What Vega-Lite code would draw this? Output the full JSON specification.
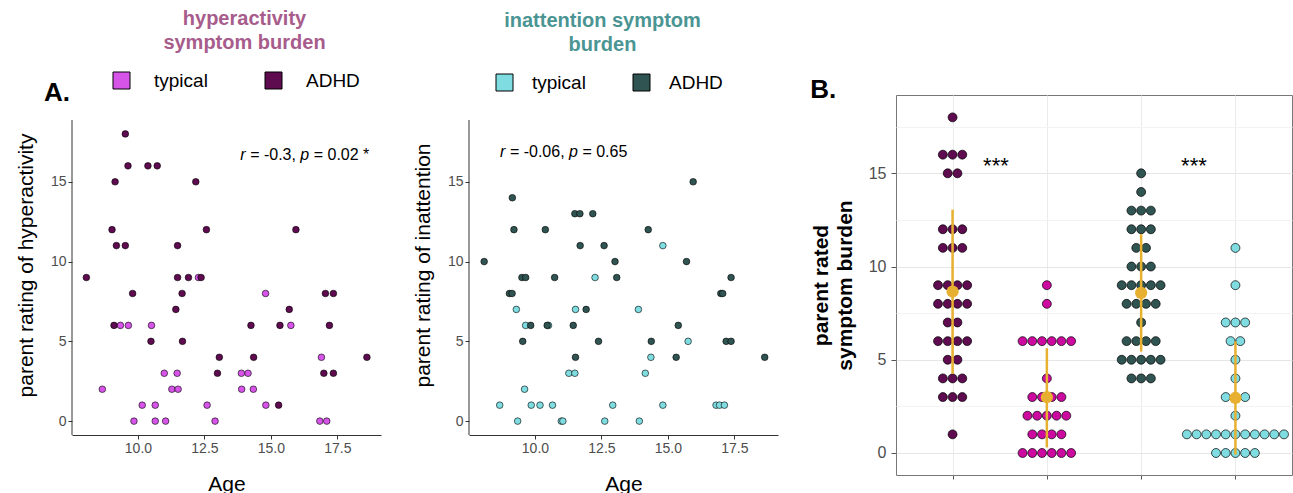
{
  "$schema": "https://vega.github.io/schema/vega-lite/v6.json",
  "padding": {"left": 15, "top": 9, "right": 0, "bottom": 0},
  "background": "white",
  "spacing": 31,
  "resolve": {"scale": {"fill": "independent", "x": "independent", "y": "independent"}, "legend": {"fill": "independent"}},
  "config": {
    "font": "Liberation Sans",
    "view": {"stroke": null},
    "axis": {"labelColor": "#4D4D4D", "titleColor": "black", "titleFontWeight": "normal", "tickColor": "#333", "domainColor": "#333", "grid": false, "labelFontSize": 14, "titleFontSize": 21, "tickSize": 4}
  },
  "datasets": {
    "hyper": [
      {"age": 12.275, "score": 9, "group": "typical"}, {"age": 14.8, "score": 8, "group": "typical"}, {"age": 9.34, "score": 6, "group": "typical"}, {"age": 9.64, "score": 6, "group": "typical"}, {"age": 10.51, "score": 6, "group": "typical"}, {"age": 15.75, "score": 6, "group": "typical"}, {"age": 16.9, "score": 4, "group": "typical"}, {"age": 10.99, "score": 3, "group": "typical"}, {"age": 11.475, "score": 3, "group": "typical"}, {"age": 13.89, "score": 3, "group": "typical"}, {"age": 14.14, "score": 3, "group": "typical"}, {"age": 8.66, "score": 2, "group": "typical"}, {"age": 11.275, "score": 2, "group": "typical"}, {"age": 11.51, "score": 2, "group": "typical"}, {"age": 13.9, "score": 2, "group": "typical"}, {"age": 14.34, "score": 2, "group": "typical"}, {"age": 10.16, "score": 1, "group": "typical"}, {"age": 10.65, "score": 1, "group": "typical"}, {"age": 12.6, "score": 1, "group": "typical"}, {"age": 14.81, "score": 1, "group": "typical"}, {"age": 9.85, "score": 0, "group": "typical"}, {"age": 10.65, "score": 0, "group": "typical"}, {"age": 11.04, "score": 0, "group": "typical"}, {"age": 12.9, "score": 0, "group": "typical"}, {"age": 16.84, "score": 0, "group": "typical"}, {"age": 17.1, "score": 0, "group": "typical"},
      {"age": 9.525, "score": 18, "group": "ADHD"}, {"age": 9.625, "score": 16, "group": "ADHD"}, {"age": 10.375, "score": 16, "group": "ADHD"}, {"age": 10.725, "score": 16, "group": "ADHD"}, {"age": 9.14, "score": 15, "group": "ADHD"}, {"age": 12.175, "score": 15, "group": "ADHD"}, {"age": 9.025, "score": 12, "group": "ADHD"}, {"age": 12.575, "score": 12, "group": "ADHD"}, {"age": 15.94, "score": 12, "group": "ADHD"}, {"age": 9.19, "score": 11, "group": "ADHD"}, {"age": 9.525, "score": 11, "group": "ADHD"}, {"age": 11.49, "score": 11, "group": "ADHD"}, {"age": 8.06, "score": 9, "group": "ADHD"}, {"age": 11.49, "score": 9, "group": "ADHD"}, {"age": 11.9, "score": 9, "group": "ADHD"}, {"age": 12.375, "score": 9, "group": "ADHD"}, {"age": 9.8, "score": 8, "group": "ADHD"}, {"age": 11.66, "score": 8, "group": "ADHD"}, {"age": 17.05, "score": 8, "group": "ADHD"}, {"age": 17.35, "score": 8, "group": "ADHD"}, {"age": 11.425, "score": 7, "group": "ADHD"}, {"age": 15.69, "score": 7, "group": "ADHD"}, {"age": 9.1, "score": 6, "group": "ADHD"}, {"age": 14.25, "score": 6, "group": "ADHD"}, {"age": 15.34, "score": 6, "group": "ADHD"}, {"age": 17.2, "score": 6, "group": "ADHD"}, {"age": 10.49, "score": 5, "group": "ADHD"}, {"age": 11.675, "score": 5, "group": "ADHD"}, {"age": 13.06, "score": 4, "group": "ADHD"}, {"age": 14.35, "score": 4, "group": "ADHD"}, {"age": 18.61, "score": 4, "group": "ADHD"}, {"age": 12.99, "score": 3, "group": "ADHD"}, {"age": 16.99, "score": 3, "group": "ADHD"}, {"age": 17.35, "score": 3, "group": "ADHD"}, {"age": 15.29, "score": 1, "group": "ADHD"}
    ],
    "inatt": [
      {"age": 9.3, "score": 7, "group": "typical"}, {"age": 9.65, "score": 6, "group": "typical"}, {"age": 9.61, "score": 2, "group": "typical"}, {"age": 8.675, "score": 1, "group": "typical"}, {"age": 9.35, "score": 0, "group": "typical"}, {"age": 9.86, "score": 1, "group": "typical"}, {"age": 10.19, "score": 1, "group": "typical"}, {"age": 10.51, "score": 6, "group": "typical"}, {"age": 10.66, "score": 1, "group": "typical"}, {"age": 10.99, "score": 0, "group": "typical"}, {"age": 11.05, "score": 0, "group": "typical"}, {"age": 11.525, "score": 7, "group": "typical"}, {"age": 11.275, "score": 3, "group": "typical"}, {"age": 11.5, "score": 3, "group": "typical"}, {"age": 12.26, "score": 9, "group": "typical"}, {"age": 12.625, "score": 0, "group": "typical"}, {"age": 12.925, "score": 1, "group": "typical"}, {"age": 13.89, "score": 7, "group": "typical"}, {"age": 13.925, "score": 0, "group": "typical"}, {"age": 14.15, "score": 3, "group": "typical"}, {"age": 14.36, "score": 4, "group": "typical"}, {"age": 14.81, "score": 11, "group": "typical"}, {"age": 14.81, "score": 1, "group": "typical"}, {"age": 15.76, "score": 5, "group": "typical"}, {"age": 16.81, "score": 1, "group": "typical"}, {"age": 16.94, "score": 1, "group": "typical"}, {"age": 17.125, "score": 1, "group": "typical"},
      {"age": 8.09, "score": 10, "group": "ADHD"}, {"age": 9.15, "score": 14, "group": "ADHD"}, {"age": 9.04, "score": 8, "group": "ADHD"}, {"age": 9.14, "score": 8, "group": "ADHD"}, {"age": 9.21, "score": 12, "group": "ADHD"}, {"age": 9.51, "score": 9, "group": "ADHD"}, {"age": 9.65, "score": 9, "group": "ADHD"}, {"age": 9.84, "score": 6, "group": "ADHD"}, {"age": 9.54, "score": 5, "group": "ADHD"}, {"age": 10.39, "score": 12, "group": "ADHD"}, {"age": 10.74, "score": 9, "group": "ADHD"}, {"age": 10.46, "score": 6, "group": "ADHD"}, {"age": 11.5, "score": 13, "group": "ADHD"}, {"age": 11.69, "score": 13, "group": "ADHD"}, {"age": 11.7, "score": 11, "group": "ADHD"}, {"age": 12.175, "score": 13, "group": "ADHD"}, {"age": 11.925, "score": 7, "group": "ADHD"}, {"age": 11.44, "score": 6, "group": "ADHD"}, {"age": 11.525, "score": 4, "group": "ADHD"}, {"age": 12.39, "score": 5, "group": "ADHD"}, {"age": 12.6, "score": 11, "group": "ADHD"}, {"age": 13.01, "score": 10, "group": "ADHD"}, {"age": 13.075, "score": 9, "group": "ADHD"}, {"age": 14.26, "score": 12, "group": "ADHD"}, {"age": 14.375, "score": 5, "group": "ADHD"}, {"age": 15.95, "score": 15, "group": "ADHD"}, {"age": 15.7, "score": 10, "group": "ADHD"}, {"age": 15.39, "score": 6, "group": "ADHD"}, {"age": 15.31, "score": 4, "group": "ADHD"}, {"age": 16.99, "score": 8, "group": "ADHD"}, {"age": 17.06, "score": 8, "group": "ADHD"}, {"age": 17.375, "score": 9, "group": "ADHD"}, {"age": 17.19, "score": 5, "group": "ADHD"}, {"age": 17.375, "score": 5, "group": "ADHD"}, {"age": 18.64, "score": 4, "group": "ADHD"}
    ],
    "dots": [
      {"cat": 1, "score": 18}, {"cat": 1, "score": 16}, {"cat": 1, "score": 16}, {"cat": 1, "score": 16}, {"cat": 1, "score": 15}, {"cat": 1, "score": 15}, {"cat": 1, "score": 12}, {"cat": 1, "score": 12}, {"cat": 1, "score": 12}, {"cat": 1, "score": 11}, {"cat": 1, "score": 11}, {"cat": 1, "score": 11}, {"cat": 1, "score": 9}, {"cat": 1, "score": 9}, {"cat": 1, "score": 9}, {"cat": 1, "score": 9}, {"cat": 1, "score": 8}, {"cat": 1, "score": 8}, {"cat": 1, "score": 8}, {"cat": 1, "score": 8}, {"cat": 1, "score": 7}, {"cat": 1, "score": 7}, {"cat": 1, "score": 6}, {"cat": 1, "score": 6}, {"cat": 1, "score": 6}, {"cat": 1, "score": 6}, {"cat": 1, "score": 5}, {"cat": 1, "score": 5}, {"cat": 1, "score": 4}, {"cat": 1, "score": 4}, {"cat": 1, "score": 4}, {"cat": 1, "score": 3}, {"cat": 1, "score": 3}, {"cat": 1, "score": 3}, {"cat": 1, "score": 1},
      {"cat": 2, "score": 9}, {"cat": 2, "score": 8}, {"cat": 2, "score": 6}, {"cat": 2, "score": 6}, {"cat": 2, "score": 6}, {"cat": 2, "score": 6}, {"cat": 2, "score": 6}, {"cat": 2, "score": 6}, {"cat": 2, "score": 4}, {"cat": 2, "score": 3}, {"cat": 2, "score": 3}, {"cat": 2, "score": 3}, {"cat": 2, "score": 3}, {"cat": 2, "score": 2}, {"cat": 2, "score": 2}, {"cat": 2, "score": 2}, {"cat": 2, "score": 2}, {"cat": 2, "score": 2}, {"cat": 2, "score": 1}, {"cat": 2, "score": 1}, {"cat": 2, "score": 1}, {"cat": 2, "score": 1}, {"cat": 2, "score": 0}, {"cat": 2, "score": 0}, {"cat": 2, "score": 0}, {"cat": 2, "score": 0}, {"cat": 2, "score": 0}, {"cat": 2, "score": 0},
      {"cat": 3, "score": 15}, {"cat": 3, "score": 14}, {"cat": 3, "score": 13}, {"cat": 3, "score": 13}, {"cat": 3, "score": 13}, {"cat": 3, "score": 12}, {"cat": 3, "score": 12}, {"cat": 3, "score": 12}, {"cat": 3, "score": 11}, {"cat": 3, "score": 11}, {"cat": 3, "score": 10}, {"cat": 3, "score": 10}, {"cat": 3, "score": 10}, {"cat": 3, "score": 9}, {"cat": 3, "score": 9}, {"cat": 3, "score": 9}, {"cat": 3, "score": 9}, {"cat": 3, "score": 9}, {"cat": 3, "score": 8}, {"cat": 3, "score": 8}, {"cat": 3, "score": 8}, {"cat": 3, "score": 8}, {"cat": 3, "score": 7}, {"cat": 3, "score": 6}, {"cat": 3, "score": 6}, {"cat": 3, "score": 6}, {"cat": 3, "score": 6}, {"cat": 3, "score": 5}, {"cat": 3, "score": 5}, {"cat": 3, "score": 5}, {"cat": 3, "score": 5}, {"cat": 3, "score": 5}, {"cat": 3, "score": 4}, {"cat": 3, "score": 4}, {"cat": 3, "score": 4},
      {"cat": 4, "score": 11}, {"cat": 4, "score": 9}, {"cat": 4, "score": 7}, {"cat": 4, "score": 7}, {"cat": 4, "score": 7}, {"cat": 4, "score": 6}, {"cat": 4, "score": 6}, {"cat": 4, "score": 5}, {"cat": 4, "score": 4}, {"cat": 4, "score": 3}, {"cat": 4, "score": 3}, {"cat": 4, "score": 3}, {"cat": 4, "score": 2}, {"cat": 4, "score": 1}, {"cat": 4, "score": 1}, {"cat": 4, "score": 1}, {"cat": 4, "score": 1}, {"cat": 4, "score": 1}, {"cat": 4, "score": 1}, {"cat": 4, "score": 1}, {"cat": 4, "score": 1}, {"cat": 4, "score": 1}, {"cat": 4, "score": 1}, {"cat": 4, "score": 1}, {"cat": 4, "score": 0}, {"cat": 4, "score": 0}, {"cat": 4, "score": 0}, {"cat": 4, "score": 0}, {"cat": 4, "score": 0}
    ],
    "summ": [
      {"cat": 1, "mean": 8.66, "lo": 4.24, "hi": 13.05},
      {"cat": 2, "mean": 2.99, "lo": 0.3, "hi": 5.62},
      {"cat": 3, "mean": 8.59, "lo": 5.44, "hi": 11.74},
      {"cat": 4, "mean": 2.95, "lo": -0.09, "hi": 5.99}
    ],
    "stars": [
      {"x": 1.46, "y": 15.4, "t": "***"},
      {"x": 3.56, "y": 15.4, "t": "***"}
    ],
    "axisline": [{"x": 7.52, "y1": -0.87, "y2": 18.87}],
    "ann1": [{"x": 13.85, "y": 16.71, "r": "r", "s1": "= -0.3,", "p": "p", "s2": "= 0.02 *"}],
    "ann2": [{"x": 8.69, "y": 16.88, "r": "r", "s1": "= -0.06,", "p": "p", "s2": "= 0.65"}]
  },
  "hconcat": [
    {
      "width": 309,
      "height": 340,
      "title": {"text": ["hyperactivity", "symptom burden"], "color": "#A75C8C", "fontSize": 20, "fontWeight": "bold", "lineHeight": 24, "anchor": "middle", "frame": "group", "dx": 18, "offset": 18},
      "layer": [
        {
          "data": {"name": "hyper"},
          "mark": {"type": "circle", "size": 44, "stroke": "black", "strokeWidth": 0.6, "opacity": 1},
          "encoding": {
            "x": {"field": "age", "type": "quantitative", "title": "Age", "scale": {"domain": [7.52, 19.14], "nice": false, "zero": false}, "axis": {"values": [10, 12.5, 15, 17.5], "format": ".1f", "titlePadding": 18}},
            "y": {"field": "score", "type": "quantitative", "title": "parent rating of hyperactivity", "scale": {"domain": [-0.87, 20.44], "nice": false}, "axis": {"values": [0, 5, 10, 15], "titlePadding": 14, "domain": false}},
            "fill": {"field": "group", "type": "nominal", "scale": {"domain": ["typical", "ADHD"], "range": ["#D655E8", "#5E0B50"]},
              "legend": {"orient": "none", "legendX": -28, "legendY": -24, "direction": "horizontal", "title": [" ", "A."], "titleOrient": "left", "titleFontSize": 26, "titleFontWeight": "bold", "titleColor": "black", "titleLineHeight": 24, "titlePadding": 42, "symbolType": "square", "symbolSize": 289, "symbolStrokeColor": "black", "symbolStrokeWidth": 1, "symbolOpacity": 1, "labelFontSize": 19, "labelColor": "black", "labelOffset": 23, "columnPadding": 55}}
          }
        },
        {"data": {"name": "axisline"}, "mark": {"type": "rule", "color": "#333", "strokeWidth": 1}, "encoding": {"x": {"field": "x", "type": "quantitative"}, "y": {"field": "y1", "type": "quantitative"}, "y2": {"field": "y2"}}},
        {"data": {"name": "ann1"}, "mark": {"type": "text", "align": "left", "baseline": "middle", "fontSize": 16, "fontStyle": "italic", "dx": 0}, "encoding": {"x": {"field": "x", "type": "quantitative"}, "y": {"field": "y", "type": "quantitative"}, "text": {"field": "r"}}},
        {"data": {"name": "ann1"}, "mark": {"type": "text", "align": "left", "baseline": "middle", "fontSize": 16, "dx": 9.8}, "encoding": {"x": {"field": "x", "type": "quantitative"}, "y": {"field": "y", "type": "quantitative"}, "text": {"field": "s1"}}},
        {"data": {"name": "ann1"}, "mark": {"type": "text", "align": "left", "baseline": "middle", "fontSize": 16, "fontStyle": "italic", "dx": 60}, "encoding": {"x": {"field": "x", "type": "quantitative"}, "y": {"field": "y", "type": "quantitative"}, "text": {"field": "p"}}},
        {"data": {"name": "ann1"}, "mark": {"type": "text", "align": "left", "baseline": "middle", "fontSize": 16, "dx": 73.4}, "encoding": {"x": {"field": "x", "type": "quantitative"}, "y": {"field": "y", "type": "quantitative"}, "text": {"field": "s2"}}}
      ]
    },
    {
      "width": 309,
      "height": 340,
      "title": {"text": ["inattention symptom", "burden"], "color": "#4A9593", "fontSize": 20, "fontWeight": "bold", "lineHeight": 24, "anchor": "middle", "frame": "group", "dx": -21, "offset": 18},
      "layer": [
        {
          "data": {"name": "inatt"},
          "mark": {"type": "circle", "size": 44, "stroke": "black", "strokeWidth": 0.6, "opacity": 1},
          "encoding": {
            "x": {"field": "age", "type": "quantitative", "title": "Age", "scale": {"domain": [7.52, 19.14], "nice": false, "zero": false}, "axis": {"values": [10, 12.5, 15, 17.5], "format": ".1f", "titlePadding": 18}},
            "y": {"field": "score", "type": "quantitative", "title": "parent rating of inattention", "scale": {"domain": [-0.87, 20.44], "nice": false}, "axis": {"values": [0, 5, 10, 15], "titlePadding": 14, "domain": false}},
            "fill": {"field": "group", "type": "nominal", "scale": {"domain": ["typical", "ADHD"], "range": ["#7FDCE0", "#2F5451"]},
              "legend": {"orient": "none", "legendX": 26, "legendY": -22, "direction": "horizontal", "title": null, "symbolType": "square", "symbolSize": 289, "symbolStrokeColor": "black", "symbolStrokeWidth": 1, "symbolOpacity": 1, "labelFontSize": 19, "labelColor": "black", "labelOffset": 18, "columnPadding": 45}}
          }
        },
        {"data": {"name": "axisline"}, "mark": {"type": "rule", "color": "#333", "strokeWidth": 1}, "encoding": {"x": {"field": "x", "type": "quantitative"}, "y": {"field": "y1", "type": "quantitative"}, "y2": {"field": "y2"}}},
        {"data": {"name": "ann2"}, "mark": {"type": "text", "align": "left", "baseline": "middle", "fontSize": 16, "fontStyle": "italic", "dx": 0}, "encoding": {"x": {"field": "x", "type": "quantitative"}, "y": {"field": "y", "type": "quantitative"}, "text": {"field": "r"}}},
        {"data": {"name": "ann2"}, "mark": {"type": "text", "align": "left", "baseline": "middle", "fontSize": 16, "dx": 9.8}, "encoding": {"x": {"field": "x", "type": "quantitative"}, "y": {"field": "y", "type": "quantitative"}, "text": {"field": "s1"}}},
        {"data": {"name": "ann2"}, "mark": {"type": "text", "align": "left", "baseline": "middle", "fontSize": 16, "fontStyle": "italic", "dx": 69}, "encoding": {"x": {"field": "x", "type": "quantitative"}, "y": {"field": "y", "type": "quantitative"}, "text": {"field": "p"}}},
        {"data": {"name": "ann2"}, "mark": {"type": "text", "align": "left", "baseline": "middle", "fontSize": 16, "dx": 82.3}, "encoding": {"x": {"field": "x", "type": "quantitative"}, "y": {"field": "y", "type": "quantitative"}, "text": {"field": "s2"}}}
      ]
    },
    {
      "width": 396,
      "height": 380,
      "view": {"stroke": "#777", "strokeWidth": 1},
      "title": {"text": "B.", "anchor": "start", "frame": "bounds", "fontSize": 26, "fontWeight": "bold", "color": "black", "offset": -8},
      "layer": [
        {
          "data": {"name": "dots"},
          "transform": [
            {"window": [{"op": "row_number", "as": "rn"}], "groupby": ["cat", "score"]},
            {"joinaggregate": [{"op": "count", "as": "n"}], "groupby": ["cat", "score"]},
            {"calculate": "datum.cat + (datum.rn - (datum.n + 1) / 2) * 0.103", "as": "xpos"}
          ],
          "mark": {"type": "circle", "size": 80, "stroke": "black", "strokeWidth": 0.7, "opacity": 1},
          "encoding": {
            "x": {"field": "xpos", "type": "quantitative", "title": null, "scale": {"domain": [0.4, 4.6], "nice": false, "zero": false}, "axis": {"values": [1, 2, 3, 4], "labels": false, "grid": true, "gridColor": "#EBEBEB", "domain": false, "tickColor": "#555", "tickSize": 4}},
            "y": {"field": "score", "type": "quantitative", "title": ["parent rated", "symptom burden"], "scale": {"domain": [-1.18, 19.2], "nice": false, "zero": false},
              "axis": {"values": [0, 2.5, 5, 7.5, 10, 12.5, 15, 17.5], "labelExpr": "datum.value % 5 === 0 ? datum.label : ''", "tickOpacity": {"condition": {"test": "datum.value % 5 === 0", "value": 1}, "value": 0}, "grid": true, "gridColor": {"condition": {"test": "datum.value % 5 === 0", "value": "#E6E6E6"}, "value": "#F3F3F3"}, "domain": false, "tickColor": "#555", "tickSize": 5, "labelPadding": 5, "labelFontSize": 16, "titleFontWeight": "bold", "titleFontSize": 21, "titleLineHeight": 24, "titlePadding": 13}},
            "fill": {"field": "cat", "type": "nominal", "scale": {"domain": [1, 2, 3, 4], "range": ["#5E0B50", "#CC0AA0", "#2F5451", "#7FDCE0"]}, "legend": null}
          }
        },
        {
          "data": {"name": "summ"},
          "mark": {"type": "rule", "color": "#E8B030", "strokeWidth": 2.5},
          "encoding": {"x": {"field": "cat", "type": "quantitative", "title": null}, "y": {"field": "lo", "type": "quantitative", "title": ["parent rated", "symptom burden"]}, "y2": {"field": "hi"}}
        },
        {
          "data": {"name": "summ"},
          "mark": {"type": "circle", "size": 150, "color": "#E8B030", "opacity": 1},
          "encoding": {"x": {"field": "cat", "type": "quantitative", "title": null}, "y": {"field": "mean", "type": "quantitative", "title": ["parent rated", "symptom burden"]}}
        },
        {
          "data": {"name": "stars"},
          "mark": {"type": "text", "fontSize": 22, "color": "black", "baseline": "middle"},
          "encoding": {"x": {"field": "x", "type": "quantitative", "title": null}, "y": {"field": "y", "type": "quantitative", "title": ["parent rated", "symptom burden"]}, "text": {"field": "t"}}
        }
      ]
    }
  ]
}
